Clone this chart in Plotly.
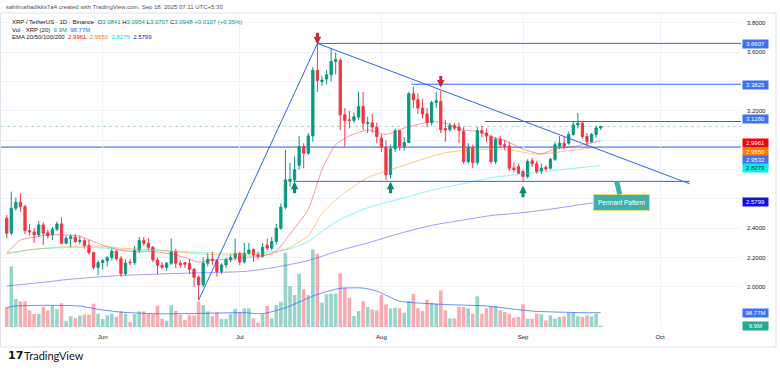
import pandas as pd
import plotly.graph_objects as go

# ---------------- data ----------------
dates = pd.date_range("2025-05-11", periods=131, freq="D")

opens = [2.469, 2.367, 2.537, 2.578, 2.548, 2.384, 2.375, 2.355, 2.423, 2.370,
         2.355, 2.394, 2.430, 2.298, 2.330, 2.340, 2.310, 2.316, 2.282, 2.234,
         2.134, 2.166, 2.180, 2.200, 2.244, 2.193, 2.090, 2.170, 2.165, 2.250,
         2.316, 2.298, 2.270, 2.184, 2.148, 2.134, 2.162, 2.240, 2.162, 2.165,
         2.160, 2.120, 2.066, 2.014, 2.162, 2.190, 2.180, 2.105, 2.150, 2.185,
         2.200, 2.230, 2.170, 2.230, 2.257, 2.220, 2.210, 2.285, 2.264, 2.310,
         2.400, 2.544, 2.720, 2.730, 2.830, 2.957, 2.912, 3.030, 3.477, 3.400,
         3.418, 3.447, 3.538, 3.545, 3.174, 3.140, 3.135, 3.158, 3.230, 3.115,
         3.120, 3.090, 3.015, 2.953, 2.765, 2.942, 3.065, 2.958, 2.985, 3.317,
         3.276, 3.220, 3.180, 3.120, 3.258, 3.265, 3.080, 3.072, 3.100, 3.090,
         3.060, 2.855, 2.950, 2.848, 3.067, 3.050, 3.025, 2.855, 3.007, 2.970,
         2.960, 2.810, 2.820, 2.787, 2.753, 2.860, 2.840, 2.790, 2.815, 2.810,
         2.870, 2.960, 2.980, 2.980, 3.040, 3.105, 3.117, 3.026, 2.990, 3.040, 3.0841]
highs = [2.490, 2.650, 2.610, 2.640, 2.560, 2.430, 2.400, 2.450, 2.440, 2.390,
         2.410, 2.446, 2.476, 2.350, 2.360, 2.360, 2.350, 2.330, 2.320, 2.240,
         2.180, 2.190, 2.210, 2.260, 2.250, 2.210, 2.190, 2.190, 2.280, 2.340,
         2.340, 2.335, 2.280, 2.200, 2.170, 2.170, 2.330, 2.260, 2.180, 2.170,
         2.190, 2.130, 2.080, 2.200, 2.230, 2.240, 2.190, 2.160, 2.200, 2.220,
         2.330, 2.240, 2.300, 2.300, 2.260, 2.240, 2.300, 2.330, 2.340, 2.430,
         2.570, 2.935, 2.846, 2.890, 3.030, 2.980, 3.050, 3.500, 3.6607, 3.440,
         3.480, 3.630, 3.600, 3.560, 3.220, 3.200, 3.190, 3.330, 3.330, 3.160,
         3.180, 3.120, 3.040, 3.000, 2.970, 3.080, 3.070, 3.020, 3.330, 3.367,
         3.320, 3.280, 3.220, 3.270, 3.330, 3.340, 3.140, 3.120, 3.120, 3.120,
         3.090, 2.980, 2.970, 3.090, 3.100, 3.080, 3.040, 3.020, 3.030, 3.000,
         2.990, 2.850, 2.840, 2.800, 2.870, 2.880, 2.860, 2.840, 2.830, 2.880,
         2.990, 3.030, 3.030, 3.060, 3.130, 3.186, 3.130, 3.050, 3.050, 3.100, 3.0954]
lows = [2.334, 2.355, 2.520, 2.514, 2.360, 2.350, 2.300, 2.340, 2.287, 2.330,
        2.320, 2.380, 2.290, 2.290, 2.270, 2.300, 2.290, 2.260, 2.220, 2.120,
        2.080, 2.120, 2.140, 2.180, 2.180, 2.070, 2.080, 2.150, 2.150, 2.230,
        2.280, 2.250, 2.170, 2.090, 2.120, 2.110, 2.150, 2.130, 2.130, 2.130,
        2.090, 2.000, 1.910, 2.000, 2.140, 2.150, 2.070, 2.090, 2.130, 2.170,
        2.180, 2.150, 2.160, 2.220, 2.170, 2.190, 2.200, 2.250, 2.250, 2.290,
        2.390, 2.530, 2.683, 2.720, 2.800, 2.810, 2.900, 2.990, 3.330, 3.370,
        3.380, 3.400, 3.450, 3.070, 2.958, 3.080, 3.120, 3.140, 3.070, 3.050,
        3.050, 2.980, 2.920, 2.730, 2.740, 2.920, 2.930, 2.930, 2.980, 3.220,
        3.180, 3.150, 3.090, 3.100, 3.220, 3.050, 2.990, 3.060, 3.070, 2.980,
        2.840, 2.840, 2.810, 2.830, 3.020, 2.990, 2.840, 2.840, 2.950, 2.930,
        2.790, 2.780, 2.770, 2.720, 2.740, 2.820, 2.770, 2.770, 2.790, 2.800,
        2.860, 2.940, 2.940, 2.970, 3.030, 3.080, 3.010, 2.958, 2.980, 3.020, 3.0707]
closes = [2.367, 2.537, 2.578, 2.548, 2.384, 2.375, 2.355, 2.423, 2.367, 2.350,
          2.394, 2.430, 2.298, 2.332, 2.343, 2.310, 2.316, 2.282, 2.234, 2.134,
          2.166, 2.180, 2.200, 2.244, 2.193, 2.090, 2.162, 2.165, 2.250, 2.316,
          2.298, 2.270, 2.184, 2.148, 2.134, 2.162, 2.240, 2.162, 2.150, 2.155,
          2.120, 2.066, 2.014, 2.162, 2.190, 2.180, 2.105, 2.150, 2.185, 2.200,
          2.230, 2.170, 2.230, 2.252, 2.218, 2.210, 2.270, 2.265, 2.310, 2.400,
          2.544, 2.730, 2.735, 2.800, 2.957, 2.912, 3.030, 3.477, 3.408, 3.410,
          3.447, 3.538, 3.550, 3.174, 3.135, 3.135, 3.160, 3.230, 3.117, 3.120,
          3.090, 3.026, 2.953, 2.765, 2.942, 3.065, 2.958, 2.985, 3.317, 3.276,
          3.220, 3.180, 3.120, 3.258, 3.270, 3.072, 3.070, 3.100, 3.083, 3.067,
          2.855, 2.950, 2.848, 3.067, 3.050, 3.030, 2.855, 3.007, 2.970, 2.960,
          2.810, 2.800, 2.776, 2.753, 2.855, 2.840, 2.787, 2.810, 2.805, 2.870,
          2.970, 2.980, 2.960, 3.040, 3.105, 3.117, 3.026, 2.990, 3.040, 3.0841, 3.0948]
volumes_m = [136, 419, 193, 177, 177, 115, 90, 92, 138, 115,
             147, 124, 164, 43, 74, 62, 78, 85, 85, 161,
             92, 55, 81, 92, 71, 108, 92, 35, 90, 108,
             108, 90, 90, 147, 57, 43, 150, 112, 85, 50,
             81, 81, 173, 150, 108, 74, 101, 57, 57, 90,
             126, 101, 129, 129, 60, 30, 88, 145, 60, 152,
             175, 513, 283, 221, 368, 260, 221, 536, 506, 168,
             226, 230, 230, 371, 271, 202, 76, 110, 179, 138,
             122, 115, 221, 157, 129, 133, 129, 99, 179, 230,
             129, 110, 188, 166, 161, 253, 115, 60, 60, 138,
             138, 129, 92, 212, 92, 129, 145, 145, 115, 104,
             92, 64, 69, 157, 57, 57, 92, 88, 46, 81,
             57, 69, 74, 97, 101, 74, 69, 81, 74, 92, 9.9]

vol_ma_dates = ["2025-05-11", "2025-05-13", "2025-05-20", "2025-05-27", "2025-05-31", "2025-06-05",
                "2025-06-12", "2025-06-19", "2025-07-02", "2025-07-06", "2025-07-11", "2025-07-18",
                "2025-07-23", "2025-07-28", "2025-07-31", "2025-08-05", "2025-08-14", "2025-08-24",
                "2025-09-03", "2025-09-14", "2025-09-18"]
vol_ma_vals = [133, 145, 150, 145, 122, 103, 92, 92, 99, 92, 133, 226, 267, 269, 248, 179, 157, 145,
               110, 99, 98.77]

ema20_dates = ["2025-05-11", "2025-05-14", "2025-05-17", "2025-05-20", "2025-05-24", "2025-05-27",
               "2025-05-30", "2025-06-02", "2025-06-05", "2025-06-08", "2025-06-12", "2025-06-16",
               "2025-06-19", "2025-06-22", "2025-06-25", "2025-06-29", "2025-07-03", "2025-07-06",
               "2025-07-09", "2025-07-12", "2025-07-16", "2025-07-19", "2025-07-22", "2025-07-25",
               "2025-07-29", "2025-08-02", "2025-08-06", "2025-08-12", "2025-08-15", "2025-08-19",
               "2025-08-22", "2025-08-25", "2025-08-28", "2025-09-01", "2025-09-05", "2025-09-08",
               "2025-09-12", "2025-09-15", "2025-09-18"]
ema20_vals = [2.23, 2.32, 2.339, 2.355, 2.355, 2.345, 2.31, 2.275, 2.25, 2.24, 2.24, 2.225,
              2.20, 2.17, 2.184, 2.19, 2.203, 2.21, 2.245, 2.36, 2.53, 2.80, 2.97, 3.03,
              3.07, 3.04, 3.083, 3.128, 3.117, 3.07, 3.06, 3.026, 3.0, 2.94, 2.908, 2.94,
              2.958, 2.976, 2.9961]

ema50_dates = ["2025-05-11", "2025-05-17", "2025-05-24", "2025-05-31", "2025-06-05", "2025-06-12",
               "2025-06-19", "2025-06-25", "2025-07-03", "2025-07-08", "2025-07-12", "2025-07-16",
               "2025-07-19", "2025-07-23", "2025-07-29", "2025-08-05", "2025-08-12", "2025-08-15",
               "2025-08-19", "2025-08-25", "2025-08-29", "2025-09-04", "2025-09-10", "2025-09-14",
               "2025-09-18"]
ema50_vals = [2.232, 2.257, 2.275, 2.28, 2.264, 2.255, 2.235, 2.22, 2.218, 2.225, 2.27, 2.35,
              2.50, 2.62, 2.745, 2.82, 2.89, 2.915, 2.93, 2.94, 2.935, 2.905, 2.925, 2.94, 2.955]

ema100_dates = ["2025-05-11", "2025-05-17", "2025-05-24", "2025-05-31", "2025-06-05", "2025-06-16",
                "2025-06-25", "2025-07-03", "2025-07-08", "2025-07-12", "2025-07-16", "2025-07-19",
                "2025-07-23", "2025-07-29", "2025-08-05", "2025-08-12", "2025-08-19", "2025-08-25",
                "2025-09-01", "2025-09-08", "2025-09-18"]
ema100_vals = [2.225, 2.257, 2.268, 2.268, 2.255, 2.245, 2.232, 2.228, 2.24, 2.26, 2.31, 2.38,
               2.46, 2.54, 2.60, 2.66, 2.705, 2.745, 2.77, 2.795, 2.8279]

ema200_dates = ["2025-05-11", "2025-05-20", "2025-05-24", "2025-05-31", "2025-06-05", "2025-06-19",
                "2025-07-02", "2025-07-08", "2025-07-16", "2025-07-23", "2025-07-29", "2025-08-05",
                "2025-08-12", "2025-08-19", "2025-08-25", "2025-09-01", "2025-09-08", "2025-09-14",
                "2025-09-18"]
ema200_vals = [2.007, 2.035, 2.05, 2.068, 2.078, 2.094, 2.106, 2.13, 2.18, 2.25, 2.30, 2.365,
               2.42, 2.457, 2.487, 2.507, 2.535, 2.563, 2.5799]

# drawings (anchor dates / prices)
pole_dates = ["2025-06-22", "2025-07-18"]
pole_prices = [1.91, 3.6607]
upper_dates = ["2025-07-18", "2025-10-07 12:00"]
upper_prices = [3.6607, 2.703]
support_dates = ["2025-07-12 18:00", "2025-10-07 12:00"]
support_prices = [2.72, 2.72]
ray_starts = ["2025-07-18", "2025-08-07 14:00", "2025-08-23 16:00"]
ray_levels = [3.6607, 3.3825, 3.1280]
full_level = 2.9532
red_arrow_dates = ["2025-07-18", "2025-08-14"]
red_arrow_prices = [3.655, 3.36]
green_arrow_dates = ["2025-07-13", "2025-08-03", "2025-09-01"]
green_arrow_prices = [2.717, 2.717, 2.69]
callout_date = "2025-09-21 12:00"
callout_price = 2.72

price_ticks = [2.0, 2.2, 2.4, 2.6, 2.8, 3.0, 3.2, 3.4, 3.6, 3.8]
covered_ticks = [2.6, 2.8, 3.0, 3.4]   # hidden behind value labels in the reference
month_ticks = ["2025-06-01", "2025-07-01", "2025-08-01", "2025-09-01", "2025-10-01"]
month_labels = ["Jun", "Jul", "Aug", "Sep", "Oct"]

# ---------------- layout geometry ----------------
W, H = 780, 370
ML, MR, MT, MB = 1, 39, 13, 43
PW, PH = W - ML - MR, H - MT - MB
X_RANGE = ["2025-05-09 18:00", "2025-10-18 17:00"]
Y_RANGE = [1.727, 3.868]
VOL_RANGE = [0, 2170]


def pxx(px):
    return (px - ML) / PW


def pxy(py):
    return (H - MB - py) / PH


GREEN = "#089981"
RED = "#F23645"
BLUE = "#2962FF"
FONT = "Liberation Sans, Arial, sans-serif"

fig = go.Figure()

# volume (base axis y)
vol_colors = ["rgba(8,153,129,0.42)" if c >= o else "rgba(242,54,69,0.42)" for o, c in zip(opens, closes)]
fig.add_trace(go.Bar(x=dates, y=volumes_m, marker_color=vol_colors, marker_line_width=0,
                     width=0.78 * 86400000, yaxis="y", hoverinfo="skip"))
fig.add_trace(go.Scatter(x=vol_ma_dates, y=vol_ma_vals, mode="lines", yaxis="y",
                         line=dict(color="rgba(41,98,255,0.7)", width=1, shape="spline", smoothing=0.6),
                         hoverinfo="skip"))

# EMAs (price axis y2)
for dts, vals, col in [(ema200_dates, ema200_vals, "rgba(40,40,255,0.45)"),
                       (ema100_dates, ema100_vals, "rgba(0,230,230,0.45)"),
                       (ema50_dates, ema50_vals, "rgba(255,128,0,0.45)"),
                       (ema20_dates, ema20_vals, "rgba(242,54,69,0.5)")]:
    fig.add_trace(go.Scatter(x=dts, y=vals, mode="lines", yaxis="y2",
                             line=dict(color=col, width=1, shape="spline", smoothing=0.6),
                             hoverinfo="skip"))

# drawings
for dts, prs in [(pole_dates, pole_prices), (upper_dates, upper_prices), (support_dates, support_prices)]:
    fig.add_trace(go.Scatter(x=dts, y=prs, mode="lines", yaxis="y2",
                             line=dict(color=BLUE, width=1), hoverinfo="skip"))
for st, lv in zip(ray_starts, ray_levels):
    fig.add_trace(go.Scatter(x=[st, X_RANGE[1]], y=[lv, lv], mode="lines", yaxis="y2",
                             line=dict(color=BLUE, width=1), hoverinfo="skip"))

# candles
fig.add_trace(go.Candlestick(x=dates, open=opens, high=highs, low=lows, close=closes, yaxis="y2",
                             increasing=dict(line=dict(color=GREEN, width=1), fillcolor=GREEN),
                             decreasing=dict(line=dict(color=RED, width=1), fillcolor=RED),
                             whiskerwidth=0, hoverinfo="skip"))

shapes = [
    dict(type="line", xref="paper", x0=0, x1=1, yref="y2", y0=full_level, y1=full_level,
         line=dict(color="rgba(41,98,255,0.6)", width=1.6), layer="below"),
    dict(type="line", xref="paper", x0=0, x1=1, yref="y2", y0=closes[-1], y1=closes[-1],
         line=dict(color="rgba(8,153,129,0.35)", width=1, dash="dot"), layer="below"),
    dict(type="rect", xref="paper", yref="paper", x0=pxx(0.5), x1=pxx(776), y0=pxy(347), y1=pxy(13),
         line=dict(color="#e0e3eb", width=1), layer="below"),
]

annotations = []

# arrows
for d, p in zip(red_arrow_dates, red_arrow_prices):
    annotations.append(dict(x=d, y=p, xref="x", yref="y2", text="", showarrow=True, ax=0, ay=-13,
                            arrowhead=2, arrowsize=0.5, arrowwidth=3, arrowcolor="#C62836", standoff=0))
for d, p in zip(green_arrow_dates, green_arrow_prices):
    annotations.append(dict(x=d, y=p, xref="x", yref="y2", text="", showarrow=True, ax=0, ay=13,
                            arrowhead=2, arrowsize=0.5, arrowwidth=3, arrowcolor="#0B8A70", standoff=0))

# callout
annotations.append(dict(x=callout_date, y=callout_price, xref="x", yref="y2", text="Pennant Pattern",
                        showarrow=True, ax=5, ay=21, arrowhead=0, arrowwidth=5, arrowcolor="#3FAFAA",
                        bgcolor="#3FAFAA", bordercolor="#E4DB7A", borderwidth=1, borderpad=4,
                        font=dict(family=FONT, size=6.5, color="white")))


def right_label(val, text, bg, fg, yshift=0, yref="y2"):
    annotations.append(dict(x=1, xref="paper", xanchor="left", xshift=1, y=val, yref=yref,
                            yanchor="middle", yshift=yshift, text=text, showarrow=False,
                            bgcolor=bg, font=dict(family=FONT, size=6, color=fg),
                            width=24, height=7, borderpad=0.5, align="center"))


right_label(ray_levels[0], f"{ray_levels[0]:.4f}", "#3D72F2", "white", -0.5)
right_label(ray_levels[1], f"{ray_levels[1]:.4f}", "#3D72F2", "white", -0.8)
right_label(ray_levels[2], f"{ray_levels[2]:.4f}", "#3D72F2", "white", 2.8)
right_label(ema20_vals[-1], f"{ema20_vals[-1]:.4f}", "#FF0000", "white", -2.2)
right_label(ema50_vals[-1], f"{ema50_vals[-1]:.4f}", "#FF7A00", "white", -4.6)
right_label(full_level, f"{full_level:.4f}", "#3D72F2", "white", -12.6)
right_label(ema100_vals[-1], f"{ema100_vals[-1]:.4f}", "#00F0F0", "#131722", -2.6)
right_label(ema200_vals[-1], f"{ema200_vals[-1]:.4f}", "#1010E8", "white", 0)
right_label(vol_ma_vals[-1], f"{vol_ma_vals[-1]:.2f}M", "#3D72F2", "white", 0, "y")
right_label(volumes_m[-1], f"{volumes_m[-1]:.1f}M", "#22AB94", "white", 0, "y")

# header
o, h, l, c = opens[-1], highs[-1], lows[-1], closes[-1]
chg = c - closes[-2]
pct = chg / closes[-2] * 100
g = "<span style='color:#089981'>"
hdr = [
    (4, 6.7, "<span style='color:#50535e'>sahilmahadikks7a4 created with TradingView.com, Sep 18, 2025 07:11 UTC+5:30</span>"),
    (10, 21.7, f"XRP / TetherUS · 1D · Binance  O{g}{o:.4f}</span> H{g}{h:.4f}</span> "
               f"L{g}{l:.4f}</span> C{g}{c:.4f}</span> {g}{chg:+.4f} ({pct:+.2f}%)</span>"),
    (10, 29.5, f"Vol · XRP (20)  {g}{volumes_m[-1]:.1f}M</span>  "
               f"<span style='color:#2962FF'>{vol_ma_vals[-1]:.2f}M</span>"),
    (10, 37.3, f"EMA 20/50/100/200  <span style='color:#FF0000'>{ema20_vals[-1]:.4f}</span>  "
               f"<span style='color:#FF7A00'>{ema50_vals[-1]:.4f}</span>  "
               f"<span style='color:#00D8E8'>{ema100_vals[-1]:.4f}</span>  "
               f"<span style='color:#1010E8'>{ema200_vals[-1]:.4f}</span>"),
]
for xp, yp, txt in hdr:
    annotations.append(dict(x=pxx(xp), y=pxy(yp), xref="paper", yref="paper", xanchor="left",
                            yanchor="middle", text=txt, showarrow=False,
                            font=dict(family=FONT, size=6, color="#131722")))

# TradingView logo
annotations.append(dict(x=pxx(6), y=pxy(355), xref="paper", yref="paper", xanchor="left", yanchor="middle",
                        text="<b>17</b>", showarrow=False,
                        font=dict(family="DejaVu Sans", size=11, color="#131722")))
annotations.append(dict(x=pxx(22), y=pxy(355), xref="paper", yref="paper", xanchor="left", yanchor="middle",
                        text="TradingView", showarrow=False,
                        font=dict(family="Lato, Liberation Sans", size=11, color="#131722")))

tick_text = ["" if t in covered_ticks else f"{t:.4f}" for t in price_ticks]

fig.update_layout(
    width=W, height=H, margin=dict(l=ML, r=MR, t=MT, b=MB),
    paper_bgcolor="white", plot_bgcolor="white", showlegend=False,
    font=dict(family=FONT, size=6, color="#131722"),
    xaxis=dict(type="date", range=X_RANGE, tickvals=month_ticks, ticktext=month_labels,
               showgrid=True, gridcolor="#f0f3fa", gridwidth=1, zeroline=False, showline=False,
               ticks="", tickfont=dict(size=6, color="#131722"), rangeslider=dict(visible=False),
               ticklabelstandoff=5),
    yaxis=dict(range=VOL_RANGE, visible=False, fixedrange=True),
    yaxis2=dict(range=Y_RANGE, overlaying="y", side="right", tickvals=price_ticks, ticktext=tick_text,
                showgrid=True, gridcolor="#f0f3fa", zeroline=False, showline=False, ticks="",
                tickfont=dict(size=6, color="#131722"), ticklabelstandoff=5),
    shapes=shapes, annotations=annotations,
)

fig.write_html("out.html", config={"displayModeBar": False, "staticPlot": True},
               post_script="document.body.style.margin='0';document.body.style.padding='0';")
